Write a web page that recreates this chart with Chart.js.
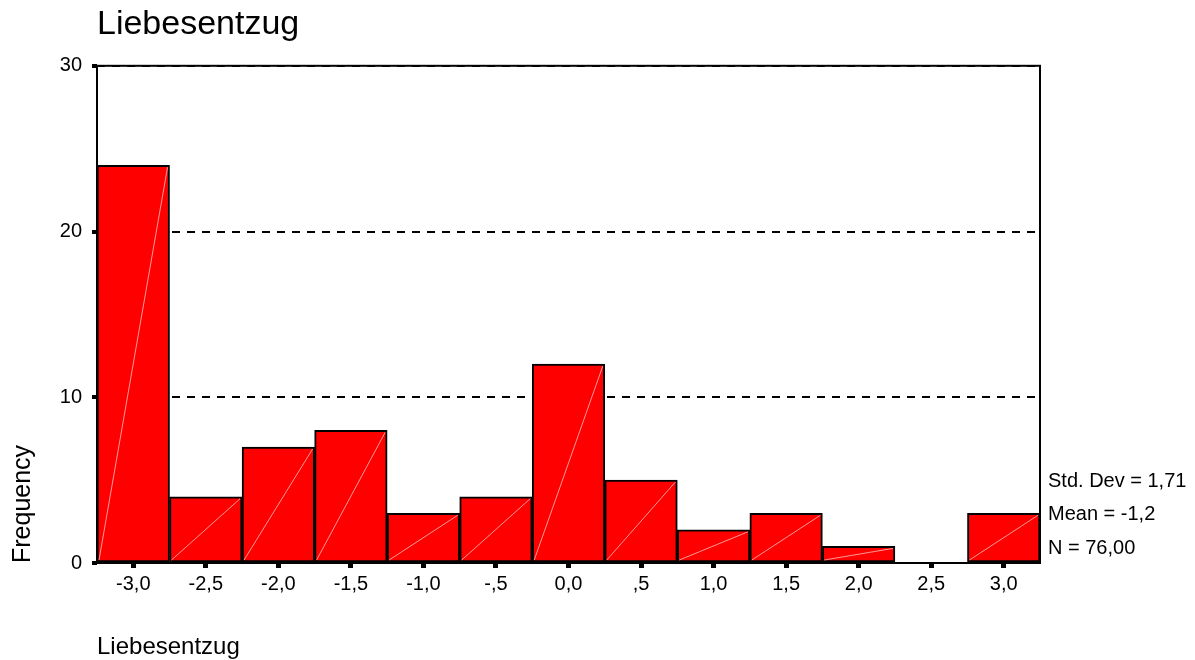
<!DOCTYPE html>
<html>
<head>
<meta charset="utf-8">
<title>Liebesentzug</title>
<script src="https://cdn.jsdelivr.net/npm/chart.js@4.4.1/dist/chart.umd.min.js"></script>
<style>
    html, body { margin: 0; padding: 0; background: #fff; }
    #wrap { width: 1195px; height: 660px; }
</style>
</head>
<body>
<div id="wrap"><canvas id="histChart"></canvas></div>
<script>
// Histogram data
const binLabels = ['-3,0', '-2,5', '-2,0', '-1,5', '-1,0', '-,5', '0,0', ',5', '1,0', '1,5', '2,0', '2,5', '3,0'];
const frequencies = [24, 4, 7, 8, 3, 4, 12, 5, 2, 3, 1, 0, 3];
const yTicks = [0, 10, 20, 30];
const statLines = ['Std. Dev = 1,71', 'Mean = -1,2', 'N = 76,00'];

const FONT = "'Liberation Sans', Arial, sans-serif";

// frame, diagonal shading line on each bar, stats box
const spssDecor = {
    id: 'spssDecor',
    afterDatasetsDraw(chart) {
        const { ctx, chartArea: a } = chart;
        const meta = chart.getDatasetMeta(0);
        ctx.save();
        ctx.strokeStyle = 'rgba(255, 170, 170, 0.9)';
        ctx.lineWidth = 1;
        meta.data.forEach(bar => {
            const p = bar.getProps(['x', 'y', 'base', 'width'], true);
            if (p.base - p.y < 2) return;
            const l = p.x - p.width / 2 + 2;
            const r = p.x + p.width / 2 - 2;
            ctx.beginPath();
            ctx.moveTo(l, p.base - 2);
            ctx.lineTo(r, p.y + 2);
            ctx.stroke();
        });
        ctx.strokeStyle = '#000';
        ctx.lineWidth = 2;
        ctx.strokeRect(a.left, a.top, a.width, a.height);
        ctx.restore();
    },
    afterDraw(chart) {
        const { ctx, chartArea: a } = chart;
        const offsets = [76, 43, 9];
        ctx.save();
        ctx.fillStyle = '#000';
        ctx.font = '20px ' + FONT;
        ctx.textAlign = 'left';
        ctx.textBaseline = 'alphabetic';
        statLines.forEach((txt, i) => {
            ctx.fillText(txt, a.right + 8, a.bottom - offsets[i]);
        });
        ctx.restore();
    }
};

const ctx = document.getElementById('histChart').getContext('2d');
new Chart(ctx, {
    type: 'bar',
    data: {
        labels: binLabels,
        datasets: [{
            label: 'Frequency',
            data: frequencies,
            backgroundColor: '#ff0000',
            borderColor: '#000',
            borderWidth: 2,
            borderSkipped: false,
            barPercentage: 1,
            categoryPercentage: 1
        }]
    },
    options: {
        responsive: true,
        maintainAspectRatio: false,
        animation: false,
        layout: { padding: { left: 0, right: 155, top: 0, bottom: 0 } },
        plugins: {
            legend: { display: false },
            tooltip: { enabled: false },
            title: {
                display: true,
                text: 'Liebesentzug',
                align: 'start',
                fullSize: false,
                color: '#000',
                font: { family: FONT, size: 34, weight: 'normal' },
                padding: { top: 4, bottom: 21 }
            }
        },
        scales: {
            x: {
                grid: {
                    drawOnChartArea: false,
                    offset: false,
                    color: '#000',
                    tickLength: 5,
                    tickWidth: 5
                },
                border: { display: false },
                ticks: {
                    color: '#000',
                    padding: 4,
                    maxRotation: 0,
                    autoSkip: false,
                    font: { family: FONT, size: 20 }
                },
                title: {
                    display: true,
                    text: 'Liebesentzug',
                    align: 'start',
                    color: '#000',
                    font: { family: FONT, size: 24 },
                    padding: { top: 0, bottom: -2 }
                },
                afterFit(scale) { scale.height = 97; }
            },
            y: {
                min: yTicks[0],
                max: yTicks[yTicks.length - 1],
                afterBuildTicks(scale) {
                    scale.ticks = yTicks.map(v => ({ value: v }));
                },
                grid: {
                    color: '#000',
                    lineWidth: 2,
                    tickLength: 5,
                    tickWidth: 4
                },
                border: { display: false, dash: [8, 7] },
                ticks: {
                    color: '#000',
                    padding: 10,
                    font: { family: FONT, size: 20 }
                },
                title: {
                    display: true,
                    text: 'Frequency',
                    align: 'start',
                    color: '#000',
                    font: { family: FONT, size: 25 },
                    padding: { top: 8, bottom: 0 }
                },
                afterFit(scale) { scale.width = 97; }
            }
        }
    },
    plugins: [spssDecor]
});
</script>
</body>
</html>
